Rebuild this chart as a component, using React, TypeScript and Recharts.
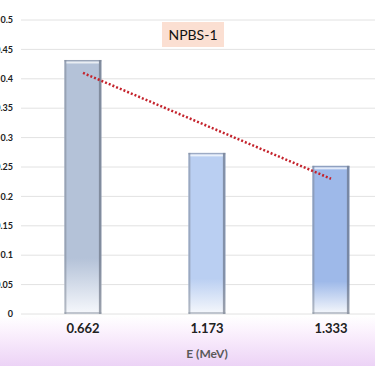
import React from 'react';
import { ComposedChart, Bar, Line, XAxis, YAxis, CartesianGrid, Cell } from 'recharts';

const categories = ['0.662', '1.173', '1.333'];
const values = [0.432, 0.274, 0.252];
const trend = [0.41, 0.32, 0.23];
const yTicks = [0, 0.05, 0.1, 0.15, 0.2, 0.25, 0.3, 0.35, 0.4, 0.45, 0.5];
const barColors = ['#b4c2d8', '#bacff2', '#9eb9e9'];

const data = categories.map((c, i) => ({ cat: c, value: values[i], trend: trend[i] }));

const BarShape = (props: any) => {
  const { x, y, width, height, index } = props;
  if (height <= 0) return null;
  return (
    <g>
      <rect x={x} y={y} width={width} height={height} fill={`url(#bg${index})`} />
      <rect x={x} y={y} width={2} height={height} fill="#7f8898" opacity={0.55} />
      <rect x={x + width - 2.5} y={y} width={2.5} height={height} fill="#5f6878" opacity={0.6} />
      <rect x={x} y={y} width={width} height={1.5} fill="#7f8898" opacity={0.5} />
      <rect x={x + 2} y={y + 1.5} width={width - 4.5} height={2} fill="#ffffff" opacity={0.7} />
      <rect x={x} y={y + height - 2} width={width} height={2} fill="#8a92a0" opacity={0.5} />
    </g>
  );
};

export default function App() {
  return (
    <div
      style={{
        position: 'fixed',
        left: 0,
        top: 0,
        width: 375,
        height: 366,
        overflow: 'hidden',
        background:
          'linear-gradient(to bottom, #ffffff 0px, #ffffff 316px, #fbf1fd 332px, #ecd3f6 366px)',
      }}
    >
      <div style={{ position: 'absolute', left: -9, top: 0 }}>
        <ComposedChart
          width={402}
          height={366}
          data={data}
          margin={{ top: 20, right: 0, left: 0, bottom: 0 }}
          barCategoryGap="35%"
        >
          <defs>
            {barColors.map((c, i) => (
              <linearGradient key={i} id={`bg${i}`} x1="0" y1="0" x2="0" y2="1">
                <stop offset="0%" stopColor={c} />
                <stop offset="78%" stopColor={c} />
                <stop offset="100%" stopColor="#f6f8fc" />
              </linearGradient>
            ))}
          </defs>
          <CartesianGrid vertical={false} stroke="#e2e2e2" strokeWidth={1} />
          <XAxis
            dataKey="cat"
            axisLine={false}
            tickLine={false}
            tickSize={0}
            tickMargin={10}
            height={52}
            tick={{ fontSize: 13, fontWeight: 'bold', fill: '#222', fontFamily: 'Lato, sans-serif' }}
            label={{
              value: 'E (MeV)',
              position: 'insideBottom',
              offset: 8,
              style: { fontSize: 12, fontWeight: 'bold', fill: '#5a5a5a', fontFamily: 'Lato, sans-serif' },
            }}
          />
          <YAxis
            domain={[0, 0.5]}
            ticks={yTicks}
            width={30}
            axisLine={false}
            tickLine={false}
            tickSize={0}
            tickMargin={8}
            tick={{ fontSize: 9, fontWeight: 'bold', fill: '#222', fontFamily: 'Lato, sans-serif' }}
          />
          <Bar dataKey="value" isAnimationActive={false} shape={<BarShape />}>
            {data.map((d, i) => (
              <Cell key={i} fill={barColors[i]} />
            ))}
          </Bar>
          <Line
            dataKey="trend"
            stroke="#c4232c"
            strokeWidth={2.5}
            strokeDasharray="2 2"
            dot={false}
            activeDot={false}
            isAnimationActive={false}
          />
        </ComposedChart>
      </div>
      <div
        style={{
          position: 'absolute',
          left: 162,
          top: 22,
          width: 62,
          height: 25,
          background: '#fbdfd2',
          fontFamily: 'Lato, sans-serif',
          fontSize: 14,
          color: '#111',
          display: 'flex',
          alignItems: 'center',
          justifyContent: 'center',
        }}
      >
        NPBS-1
      </div>
    </div>
  );
}
